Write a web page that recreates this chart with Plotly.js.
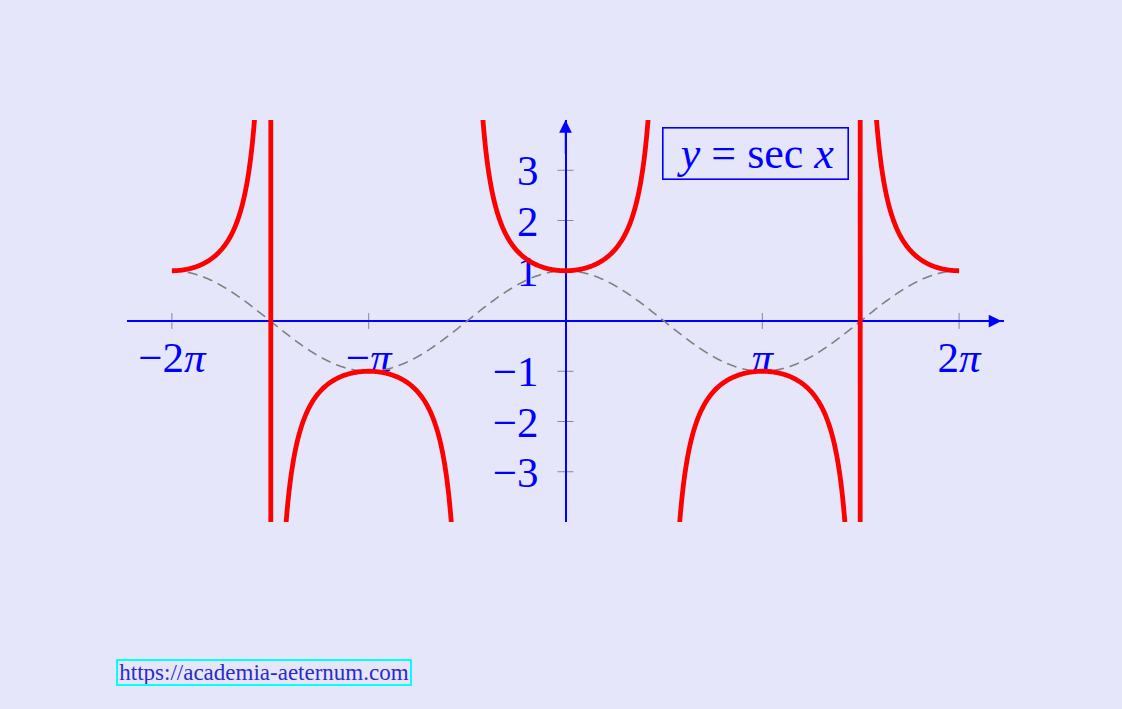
<!DOCTYPE html>
<html>
<head>
<meta charset="utf-8">
<script src="https://cdn.plot.ly/plotly-3.0.1.min.js"></script>
<style>
  html, body { margin: 0; padding: 0; background: #e6e6fa; }
  #chart { width: 1122px; height: 709px; }
</style>
</head>
<body>
<div id="chart"></div>
<script>
const PI = Math.PI;

// tick labels
const xTickVals = [-2 * PI, -PI, PI, 2 * PI];
const xTickText = ['−2<i>π</i>', '−<i>π</i>', '<i>π</i>', '2<i>π</i>'];
const yTickVals = [-3, -2, -1, 1, 2, 3];
const yTickText = ['−3', '−2', '−1', '1', '2', '3'];

// plotted function y = sec x (dashed helper: cos x) over [-2π, 2π]
const domain = [-2 * PI, 2 * PI];
const gapsAt = [-PI / 2, PI / 2];   // asymptotes left open (the ±3π/2 ones get joined)
const nSamples = 1201;

const BLUE = '#0000ff';
const FONT = 'Liberation Serif, DejaVu Serif, serif';

const xs = [], secY = [], cosY = [];
for (let i = 0; i <= nSamples; i++) {
  const x = domain[0] + (domain[1] - domain[0]) * i / nSamples;
  if (xs.length && gapsAt.some(g => xs[xs.length - 1] < g && x >= g)) {
    xs.push(null); secY.push(null); cosY.push(null);
  }
  xs.push(x);
  secY.push(1 / Math.cos(x));
  cosY.push(Math.cos(x));
}
const cosX = xs.filter(v => v !== null);
const cosOnly = cosY.filter(v => v !== null);

const traces = [
  {
    x: cosX, y: cosOnly, type: 'scatter', mode: 'lines',
    line: { color: '#808080', width: 1.6, dash: '10px,6px', simplify: false },
    hoverinfo: 'skip'
  },
  {
    x: xs, y: secY, type: 'scatter', mode: 'lines', connectgaps: false,
    line: { color: '#ff0000', width: 4.8, simplify: false },
    hoverinfo: 'skip'
  }
];

const tickShapes = [
  ...xTickVals.map(v => ({
    type: 'line', xref: 'x', yref: 'y', x0: v, x1: v,
    ysizemode: 'pixel', yanchor: 0, y0: -8, y1: 8,
    line: { color: '#888888', width: 1 }, layer: 'below'
  })),
  ...yTickVals.map(v => ({
    type: 'line', xref: 'x', yref: 'y', y0: v, y1: v,
    xsizemode: 'pixel', xanchor: 0, x0: -8, x1: 8,
    line: { color: '#888888', width: 1 }, layer: 'below'
  }))
];

const layout = {
  width: 1122, height: 709,
  paper_bgcolor: '#e6e6fa',
  plot_bgcolor: '#e6e6fa',
  margin: { l: 127, r: 118, t: 120, b: 187 },
  showlegend: false,
  xaxis: {
    range: [-7, 7], anchor: 'free', position: 0.5,
    showgrid: false, showline: false, ticks: '',
    zeroline: true, zerolinecolor: BLUE, zerolinewidth: 2,
    tickmode: 'array', tickvals: xTickVals, ticktext: xTickText,
    tickfont: { family: FONT, size: 43, color: BLUE },
    ticklabelstandoff: 7,
    layer: 'below traces', fixedrange: true
  },
  yaxis: {
    range: [-4, 4], anchor: 'free', position: 0.5,
    showgrid: false, showline: false, ticks: '',
    zeroline: true, zerolinecolor: BLUE, zerolinewidth: 2,
    tickmode: 'array', tickvals: yTickVals, ticktext: yTickText,
    tickfont: { family: FONT, size: 43, color: BLUE },
    ticklabelstandoff: 27,
    layer: 'below traces', fixedrange: true
  },
  shapes: tickShapes,
  annotations: [
    { x: 6.96, y: 0, ax: 6.3, ay: 0, xref: 'x', yref: 'y', axref: 'x', ayref: 'y',
      text: '', showarrow: true, arrowhead: 2, arrowsize: 1.7, arrowwidth: 1.5, arrowcolor: BLUE },
    { x: 0, y: 4, ax: 0, ay: 3.3, xref: 'x', yref: 'y', axref: 'x', ayref: 'y',
      text: '', showarrow: true, arrowhead: 2, arrowsize: 1.7, arrowwidth: 1.5, arrowcolor: BLUE },
    { x: 3.03, y: 3.34, xref: 'x', yref: 'y', showarrow: false,
      xanchor: 'center', yanchor: 'middle',
      text: '<i>y</i> = sec <i>x</i>',
      width: 184, height: 50,
      font: { family: FONT, size: 44, color: BLUE },
      bgcolor: '#e6e6fa', bordercolor: BLUE, borderwidth: 1.6, borderpad: 0 },
    { x: 0.1567, y: -0.3756, xref: 'paper', yref: 'paper', showarrow: false,
      xanchor: 'center', yanchor: 'middle',
      text: 'https://academia-aeternum.com',
      width: 292, height: 23,
      font: { family: FONT, size: 23, color: '#2a2ad0' },
      bordercolor: '#00ffff', borderwidth: 2, borderpad: 0 }
  ]
};

Plotly.newPlot('chart', traces, layout, { displayModeBar: false, staticPlot: true });
</script>
</body>
</html>
